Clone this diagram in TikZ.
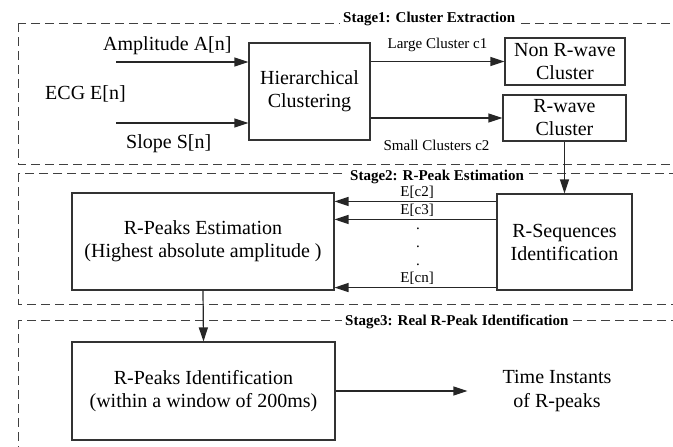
\documentclass[tikz,border=0pt]{standalone}
\usepackage{fontspec}
\setmainfont{LiberationSerif}[Extension=.ttf, UprightFont=*-Regular, BoldFont=*-Bold, ItalicFont=*-Italic, BoldItalicFont=*-BoldItalic]
\usetikzlibrary{arrows.meta,positioning}
\tikzset{
blk/.style={draw=black!80, line width=1.1pt, align=center, inner sep=0pt, font=\fontsize{20}{23}\selectfont},
bigtxt/.style={align=center, inner sep=0pt, font=\fontsize{20}{24}\selectfont},
smalltxt/.style={inner sep=0pt, font=\fontsize{15}{17}\selectfont},
stagetxt/.style={fill=white, inner xsep=3pt, inner ysep=2pt, font=\bfseries\fontsize{15}{17}\selectfont},
frame/.style={draw=black!75, line width=1pt, dash pattern=on 9pt off 5pt},
arr/.style={draw=black!85, line width=1.2pt, -{Triangle[length=14pt,width=9pt]}}
}
\begin{document}
\begin{tikzpicture}[x=1pt,y=-1pt]
\useasboundingbox (0,0) rectangle (673,447);
\clip (0,0) rectangle (673,447);
\draw[frame] (18,23) rectangle (700,164);
\draw[frame] (18,173) rectangle (700,304);
\draw[frame] (18,320) rectangle (700,480);
\node[stagetxt, anchor=base west] (st1) at (340,22) {Stage1: Cluster Extraction};
\node[stagetxt, anchor=base west] (st2) at (347,180) {Stage2: R-Peak Estimation};
\node[stagetxt, anchor=base west] (st3) at (342,325) {Stage3: Real R-Peak Identification};
\node[blk, minimum width=121pt, minimum height=97pt] (hc) at (309.5,91.5) {Hierarchical\\Clustering};
\node[blk, minimum width=120pt, minimum height=47pt] (nrw) at (565,61.5) {Non R-wave\\Cluster};
\node[blk, minimum width=123pt, minimum height=46pt] (rw) at (564.5,118) {R-wave\\Cluster};
\node[blk, minimum width=135pt, minimum height=96pt] (rseq) at (564.5,242) {R-Sequences\\Identification};
\node[blk, minimum width=262pt, minimum height=97pt] (rpe) at (203,241.5) {R-Peaks Estimation\\(Highest absolute amplitude )};
\node[blk, minimum width=263pt, minimum height=98pt] (rpi) at (203.5,391) {R-Peaks Identification\\(within a window of 200ms)};
\node[bigtxt] (ti) at (557,391) {Time Instants\\of R-peaks};
\node[bigtxt, anchor=base west] (amp) at (103,50) {Amplitude A[n]};
\node[bigtxt, anchor=base west] (ecg) at (45,99) {ECG E[n]};
\node[bigtxt, anchor=base west] (slp) at (126,148) {Slope S[n]};
\coordinate (ina) at (116,62); \coordinate (ins) at (116,123);
\draw[arr] (ina) -- (ina -| hc.west);
\draw[arr] (ins) -- (ins -| hc.west);
\draw[arr] (hc.east |- nrw.west) -- (nrw.west) node[smalltxt, midway, above=9pt] (lc) {Large Cluster c1};
\draw[arr] (hc.east |- rw.west) -- (rw.west) node[smalltxt, midway, below=21pt] (sc) {Small Clusters c2};
\draw[arr] (rw.south) -- (rseq.north);
\draw[arr] ([yshift=-8pt]rseq.north west) -- ([yshift=-8pt]rseq.north west -| rpe.east) node[smalltxt, pos=0.49, above=2pt] (e2) {E[c2]};
\draw[arr] ([yshift=-26pt]rseq.north west) -- ([yshift=-26pt]rseq.north west -| rpe.east) node[smalltxt, pos=0.49, above=2pt] (e3) {E[c3]};
\draw[arr] ([yshift=3pt]rseq.south west) -- ([yshift=3pt]rseq.south west -| rpe.east) node[smalltxt, pos=0.49, above=2pt] (en) {E[cn]};
\foreach \y in {229,247,265} \node[smalltxt, anchor=base] at (418,\y) {.};
\draw[arr] (rpe.south) -- (rpi.north);
\draw[arr] (rpi.east) -- ([xshift=-35pt]rpi.east -| ti.west);
\end{tikzpicture}
\end{document}
